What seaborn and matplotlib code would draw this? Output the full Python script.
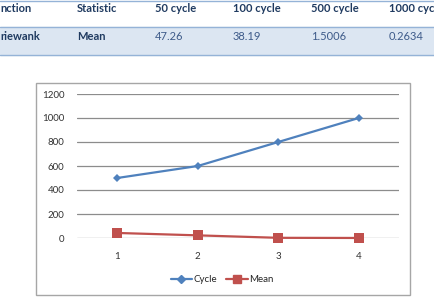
import pandas as pd
import matplotlib.pyplot as plt
import matplotlib.patches as mpatches
import matplotlib.lines as mlines
import seaborn as sns

# table content (clipped at the edges in the original picture)
header = ['nction', 'Statistic', '50 cycle', '100 cycle', '500 cycle', '1000 cycl']
row = ['riewank', 'Mean', '47.26', '38.19', '1.5006', '0.2634']

# chart data
points = [1, 2, 3, 4]
cycle = [500, 600, 800, 1000]
mean = [42, 22, 1.5006, 0.2634]
y_ticks = [0, 200, 400, 600, 800, 1000, 1200]

df = pd.DataFrame({'x': points * 2,
                   'value': cycle + mean,
                   'series': ['Cycle'] * 4 + ['Mean'] * 4})

sns.set_style('white')
plt.rcParams['font.family'] = ['Lato', 'DejaVu Sans']

W, H = 434, 301
fig = plt.figure(figsize=(W / 100, H / 100), dpi=100)

def fx(px):
    return px / W

def fy(py):
    return 1 - py / H

# ---- table ----
navy = '#1F3A60'
fig.patches.append(mpatches.Rectangle((0, fy(55)), 1, fy(27) - fy(55),
                                      transform=fig.transFigure, color='#DCE6F2', zorder=0))
for yy in [0.5, 27, 55]:
    fig.add_artist(mlines.Line2D([0, 1], [fy(yy), fy(yy)], transform=fig.transFigure,
                                 color='#95B3D7', lw=1))
col_x = [0, 77, 155, 233, 311, 389]
for i, (h, r) in enumerate(zip(header, row)):
    fig.text(fx(col_x[i]), fy(8), h, color=navy, fontsize=8, fontweight='bold', va='center')
    fig.text(fx(col_x[i]), fy(36), r, color=navy if i < 2 else '#3D5A89', fontsize=8,
             fontweight='bold' if i < 2 else 'normal', va='center')

# ---- chart frame ----
fig.patches.append(mpatches.Rectangle((fx(36), fy(295)), fx(410) - fx(36), fy(83) - fy(295),
                                      transform=fig.transFigure, fill=False,
                                      edgecolor='#A6A6A6', lw=1))

ax = fig.add_axes([fx(77), fy(238), fx(399) - fx(77), fy(94) - fy(238)])
sns.lineplot(data=df, x='x', y='value', hue='series', style='series',
             palette={'Cycle': '#4F81BD', 'Mean': '#C0504D'},
             markers={'Cycle': 'D', 'Mean': 's'}, dashes=False,
             markersize=5, linewidth=1.6, markeredgewidth=0, ax=ax, legend=False,
             clip_on=False, zorder=3)
for line, ms in zip(ax.lines, [4.5, 7]):
    line.set_markersize(ms)

ax.set_xlim(0.5, 4.5)
ax.set_ylim(0, 1200)
ax.set_xticks(points)
ax.set_yticks(y_ticks)
ax.set_xlabel('')
ax.set_ylabel('')
ax.grid(axis='y', color='#8C8C8C', lw=0.9)
ax.grid(axis='x', visible=False)
for s in ax.spines.values():
    s.set_visible(False)
ax.tick_params(axis='both', length=0, labelsize=7, colors='#333333')
ax.tick_params(axis='y', pad=9)
ax.tick_params(axis='x', pad=10)

handles = [mlines.Line2D([], [], color='#4F81BD', marker='D', markersize=4, lw=1.6, label='Cycle'),
           mlines.Line2D([], [], color='#C0504D', marker='s', markersize=6, lw=1.6, label='Mean')]
fig.legend(handles=handles, loc='center', bbox_to_anchor=(fx(222), fy(280)), ncol=2,
           frameon=False, fontsize=7, handlelength=2.2, handletextpad=0.1, columnspacing=1.0)

fig.savefig('out.png', dpi=100)
